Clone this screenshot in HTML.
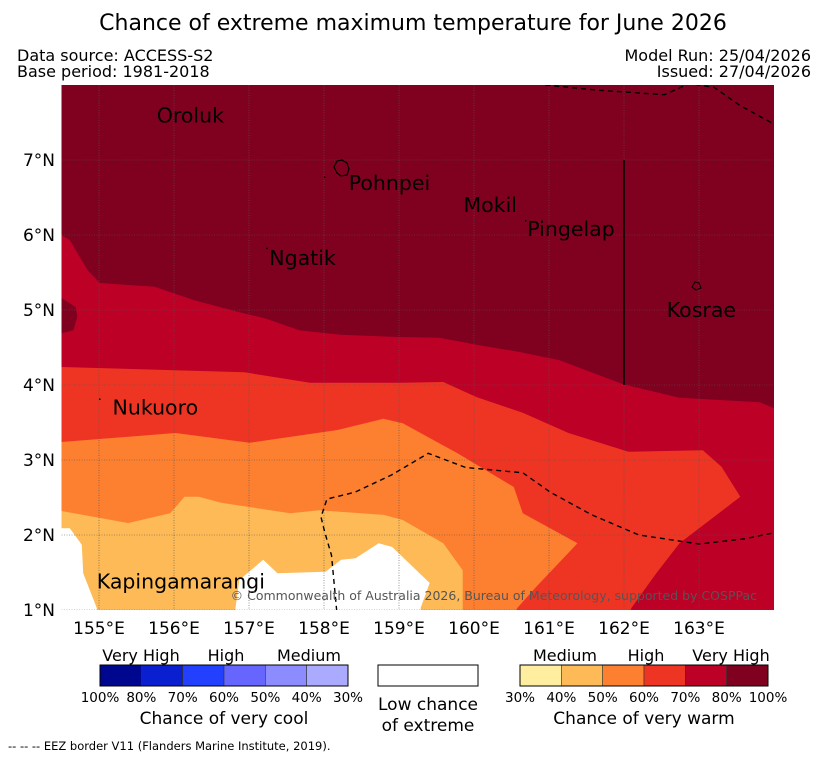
<!DOCTYPE html>
<html><head><meta charset="utf-8"><style>
body{margin:0;background:#fff}
svg{display:block;font-family:"DejaVu Sans","Liberation Sans",sans-serif}
</style></head><body>
<svg id="chart" width="827" height="758" viewBox="0 0 827 758" xmlns="http://www.w3.org/2000/svg">
<text x="413" y="30" font-size="22" text-anchor="middle">Chance of extreme maximum temperature for June 2026</text>
<text x="17" y="61" font-size="16">Data source: ACCESS-S2</text>
<text x="17" y="77" font-size="16">Base period: 1981-2018</text>
<text x="811" y="61" font-size="16" text-anchor="end">Model Run: 25/04/2026</text>
<text x="811" y="77" font-size="16" text-anchor="end">Issued: 27/04/2026</text>
<g id="map"></g>
<g id="axes"></g>
<g id="legend"></g>
<text x="8" y="750" font-size="11.5">--  --  -- EEZ border V11 (Flanders Marine Institute, 2019).</text>
</svg>
<script>
const lonTicks=[155,156,157,158,159,160,161,162,163];
const latTicks=[1,2,3,4,5,6,7];
const lonA=[154.5,154.61,154.85,155.01,155.74,156.27,156.87,157.21,157.67,158.21,159.01,159.54,160.07,160.61,161.14,161.67,161.99,162.74,163.27,163.81,164];
const latA=[6.0,5.93,5.53,5.36,5.31,5.13,4.97,4.89,4.73,4.67,4.64,4.63,4.53,4.44,4.33,4.13,4.01,3.83,3.8,3.77,3.69];
const lonBlob=[154.5,154.69,154.71,154.66,154.5];
const latBlob=[5.16,5.04,4.91,4.73,4.69];
const lonB=[154.5,156.94,157.81,159.05,159.59,160.03,160.65,161.26,162.06,163.05,163.3,163.55,162.74,162.43,162.1,162.05];
const latB=[4.24,4.17,4.03,4.03,4.04,3.84,3.63,3.36,3.11,3.13,2.91,2.51,1.89,1.49,1.03,0.9];
const lonC=[154.5,156.02,157.01,158.18,158.79,159.05,159.78,160.53,160.65,161.38,160.83,160.58,160.5];
const latC=[3.24,3.36,3.23,3.4,3.55,3.49,3.09,2.64,2.29,1.89,1.31,1.03,0.9];
const lonD=[154.5,155.39,155.95,156.14,156.33,156.63,157.55,157.93,158.79,159.05,159.59,159.85,159.85,159.85];
const latD=[2.32,2.16,2.29,2.51,2.51,2.43,2.29,2.33,2.27,2.2,1.89,1.53,1.03,0.9];
const lonW1=[154.5,154.61,154.77,154.79,154.97,154.99];
const latW1=[2.09,2.09,1.87,1.49,1.03,0.9];
const lonW2=[156.82,156.82,156.87,157.19,157.38,158.02,158.23,158.42,158.73,158.91,159.41,159.29,159.29];
const latW2=[0.9,1.03,1.4,1.67,1.49,1.51,1.67,1.69,1.89,1.84,1.36,1.03,0.9];
const lonE1=[158.17,158.1,158.01,157.96,158.04,158.41,158.9,159.39,159.89,160.65,161.02,161.57,162.2,163.0,163.61,164.05];
const latE1=[0.99,1.73,2.04,2.24,2.48,2.57,2.8,3.09,2.9,2.83,2.57,2.27,2.0,1.88,1.95,2.04];
const lonE2=[160.95,161.67,162.54,162.87,163.2,163.54,164.05];
const latE2=[8.0,7.93,7.87,8.02,7.97,7.73,7.45];
const places=["Oroluk","Pohnpei","Mokil","Pingelap","Ngatik","Kosrae","Nukuoro","Kapingamarangi"];
const placeLon=[155.77,158.33,159.86,160.71,157.27,162.57,155.18,154.97];
const placeLat=[7.5,6.6,6.31,5.99,5.6,4.91,3.61,1.29];
const dotLon=[160.68,157.23,155.0,158.0];
const dotLat=[6.2,5.83,3.82,6.78];
const coolColors=["#00078f","#0a1fd0","#2440ff","#6666ff","#8c8cff","#aaaaff"];
const coolLabels=["100%","80%","70%","60%","50%","40%","30%"];
const warmColors=["#ffeea0","#fdba56","#fd7f30","#ee3524","#bd0026","#800020"];
const warmLabels=["30%","40%","50%","60%","70%","80%","100%"];

const NS="http://www.w3.org/2000/svg";
const X0=61.5,Y0=85,W=712.5,H=525,LON0=154.5,LON1=164,LAT0=1,LAT1=8;
const sx=l=>X0+(l-LON0)/(LON1-LON0)*W;
const sy=l=>Y0+(LAT1-l)/(LAT1-LAT0)*H;
function mk(tag,attrs,parent){const e=document.createElementNS(NS,tag);for(const k in attrs)e.setAttribute(k,attrs[k]);parent.appendChild(e);return e;}
const map=document.getElementById('map'),axes=document.getElementById('axes'),leg=document.getElementById('legend');
const pts=(lo,la)=>lo.map((v,i)=>sx(v).toFixed(1)+','+sy(la[i]).toFixed(1));
const cp=mk('clipPath',{id:'mclip'},map);mk('rect',{x:X0,y:Y0,width:W,height:H},cp);
const g=mk('g',{'clip-path':'url(#mclip)'},map);
let r=mk('rect',{x:X0,y:Y0,width:W,height:H,fill:'#800020'},g);


function band(lo,la,color,name,close){
  let p=pts(lo,la);
  if(close==='below') p=p.concat([sx(LON1+0.5)+','+sy(0.8),sx(LON0-0.5)+','+sy(0.8)]);
  if(close==='left') p=p.concat([sx(LON0-0.5)+','+sy(0.8),sx(LON0-0.5)+','+sy(la[0])]);
  const e=mk('polygon',{points:p.join(' '),fill:color},g);
  
  
}
band(lonA,latA,'#bd0026','band-70-80','below');
band(lonBlob,latBlob,'#800020','band-80-100-blob','none');
band(lonB,latB,'#ee3524','band-60-70','left');
band(lonC,latC,'#fd7f30','band-50-60','left');
band(lonD,latD,'#fdba56','band-40-50','left');
band(lonW1,latW1,'#ffffff','low-chance-west','left');
band(lonW2,latW2,'#ffffff','low-chance-south','none');
lonTicks.forEach(v=>{const e=mk('line',{x1:sx(v),x2:sx(v),y1:Y0,y2:Y0+H,stroke:'#555','stroke-width':0.6,'stroke-dasharray':'1,1.5'},g);

});
latTicks.forEach(v=>{const e=mk('line',{x1:X0,x2:X0+W,y1:sy(v),y2:sy(v),stroke:'#555','stroke-width':0.6,'stroke-dasharray':'1,1.5'},g);

});
let e=mk('polyline',{points:pts(lonE1,latE1).join(' '),fill:'none',stroke:'#000','stroke-width':1.4,'stroke-dasharray':'5,4'},g);


e=mk('polyline',{points:pts(lonE2,latE2).join(' '),fill:'none',stroke:'#000','stroke-width':1.4,'stroke-dasharray':'5,4'},g);


e=mk('line',{x1:sx(162),x2:sx(162),y1:sy(7),y2:sy(4),stroke:'#000','stroke-width':1.5},g);


e=mk('path',{d:'M334,167 l3,-6 l5,-1 l5,3 l2,6 l-2,6 l-6,1 l-4,-3 z',fill:'none',stroke:'#000','stroke-width':1.2},g);


e=mk('path',{d:'M692,287 l3,-5 l4,1 l2,5 l-5,2 z',fill:'none',stroke:'#000','stroke-width':1},g);


dotLon.forEach((v,i)=>{const d=mk('rect',{x:sx(v),y:sy(dotLat[i]),width:1.5,height:1.5,fill:'#000'},g);

});
places.forEach((p,i)=>{const t=mk('text',{x:sx(placeLon[i]),y:sy(placeLat[i]),'font-size':20.5},g);t.textContent=p;

});
e=mk('text',{x:757,y:600,'font-size':12.5,fill:'#555','text-anchor':'end'},g);e.textContent='© Commonwealth of Australia 2026, Bureau of Meteorology, supported by COSPPac';


lonTicks.forEach(v=>{const t=mk('text',{x:sx(v),y:634,'font-size':17,'text-anchor':'middle'},axes);t.textContent=v+'°E';

});
latTicks.forEach(v=>{const t=mk('text',{x:55,y:sy(v)+6,'font-size':17,'text-anchor':'end'},axes);t.textContent=v+'°N';

});
function bar(x0,colors,labels,cats,title,name){
  const bw=248/colors.length;
  colors.forEach((c,i)=>{const b=mk('rect',{x:x0+i*bw,y:665,width:bw,height:21,fill:c,stroke:'#333','stroke-width':0.6},leg);
  
  });
  mk('rect',{x:x0,y:665,width:248,height:21,fill:'none',stroke:'#000','stroke-width':1},leg);
  labels.forEach((l,i)=>{const t=mk('text',{x:x0+i*bw,y:702,'font-size':13.5,'text-anchor':'middle'},leg);t.textContent=l;
  
  });
  cats.forEach(c=>{const t=mk('text',{x:x0+c[1],y:661,'font-size':16,'text-anchor':'middle'},leg);t.textContent=c[0];
  
  });
  const t=mk('text',{x:x0+124,y:724,'font-size':17,'text-anchor':'middle'},leg);t.textContent=title;
  
  
}
bar(100,coolColors,coolLabels,[['Very High',41],['High',126],['Medium',209]],'Chance of very cool','cool-legend');
bar(520,warmColors,warmLabels,[['Medium',45],['High',126],['Very High',211]],'Chance of very warm','warm-legend');
e=mk('rect',{x:378,y:665,width:100,height:21,fill:'#fff',stroke:'#000','stroke-width':1},leg);


e=mk('text',{x:428,y:710,'font-size':17,'text-anchor':'middle'},leg);e.textContent='Low chance';


e=mk('text',{x:428,y:731,'font-size':17,'text-anchor':'middle'},leg);e.textContent='of extreme';


</script>
</body></html>
